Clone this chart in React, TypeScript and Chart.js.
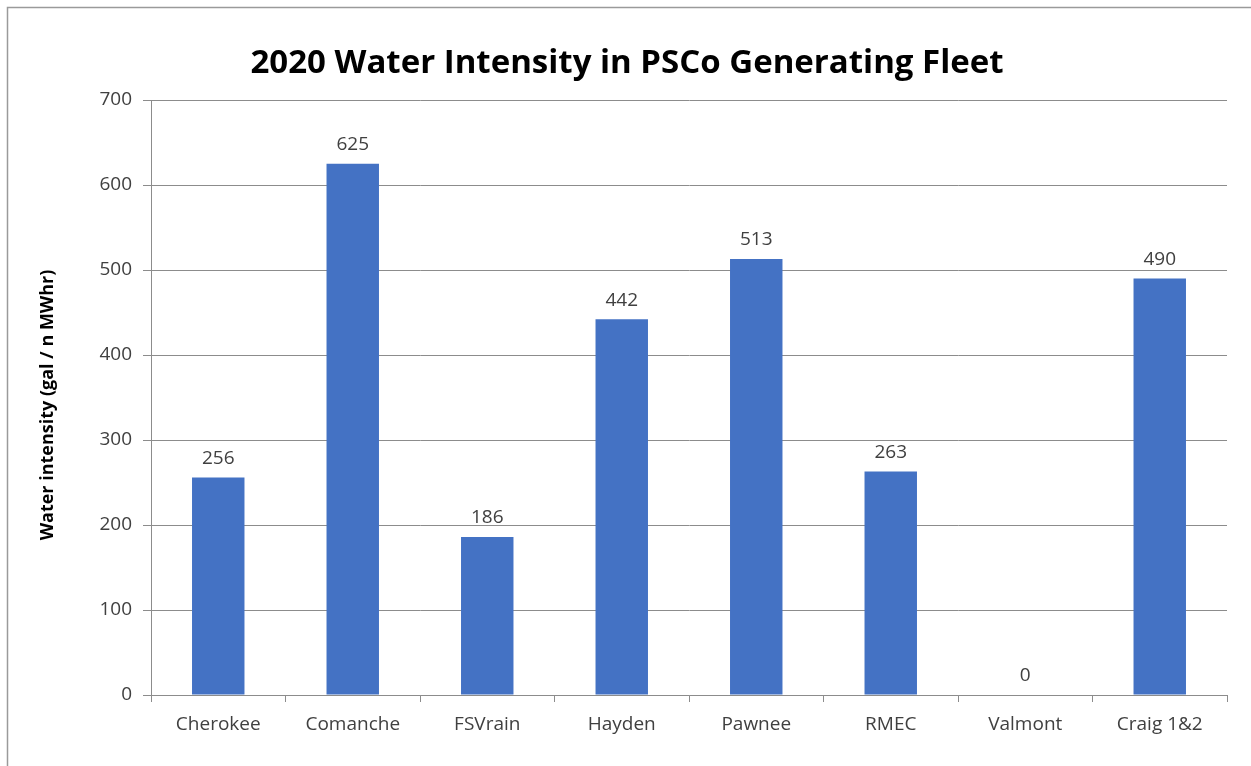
import React, { useEffect, useRef } from "react";
import { Chart, registerables } from "chart.js";

Chart.register(...registerables);

const titleText = "2020 Water Intensity in PSCo Generating Fleet";
const yAxisTitle = "Water intensity (gal / n MWhr)";
const categories = ["Cherokee", "Comanche", "FSVrain", "Hayden", "Pawnee", "RMEC", "Valmont", "Craig 1&2"];
const values = [256, 625, 186, 442, 513, 263, 0, 490];
const yMin = 0;
const yMax = 700;
const yStep = 100;

const FONT = "'Open Sans', 'Noto Sans', sans-serif";
const TEXT = "#404040";
const GRID = "#8c8c8c";
const BAR = "#4472C4";

export default function App() {
  const ref = useRef<HTMLCanvasElement | null>(null);
  useEffect(() => {
    if (!ref.current) return;
    const decor = {
      id: "decor",
      beforeDraw(chart: any) {
        const ctx = chart.ctx;
        ctx.save();
        ctx.fillStyle = "#ffffff";
        ctx.fillRect(0, 0, chart.width, chart.height);
        ctx.strokeStyle = "#9a9a9a";
        ctx.lineWidth = 1.5;
        ctx.strokeRect(7.5, 7.5, chart.width + 20, chart.height + 20);
        ctx.restore();
      },
      afterDraw(chart: any) {
        const ctx = chart.ctx;
        ctx.save();
        ctx.fillStyle = "#000000";
        ctx.font = `bold 33px ${FONT}`;
        ctx.textAlign = "center";
        ctx.textBaseline = "middle";
        ctx.fillText(titleText, 627, 64);
        ctx.translate(48, 405);
        ctx.rotate(-Math.PI / 2);
        ctx.font = `bold 18px ${FONT}`;
        ctx.fillText(yAxisTitle, 0, 0);
        ctx.restore();
      },
      afterDatasetsDraw(chart: any) {
        const ctx = chart.ctx;
        const meta = chart.getDatasetMeta(0);
        ctx.save();
        ctx.fillStyle = TEXT;
        ctx.font = `19px ${FONT}`;
        ctx.textAlign = "center";
        ctx.textBaseline = "middle";
        meta.data.forEach((el: any, i: number) => {
          ctx.fillText(String(values[i]), el.x, el.y - 19);
        });
        ctx.restore();
      },
    };
    const chart = new Chart(ref.current, {
      type: "bar",
      data: {
        labels: categories,
        datasets: [
          {
            data: values,
            backgroundColor: BAR,
            borderWidth: 0,
            barPercentage: 0.39,
            categoryPercentage: 1,
          },
        ],
      },
      options: {
        animation: false,
        responsive: false,
        maintainAspectRatio: false,
        layout: { padding: { left: 0, top: 100, right: 24, bottom: 0 } },
        plugins: { legend: { display: false }, title: { display: false }, tooltip: { enabled: false } },
        scales: {
          x: {
            type: "category",
            grid: { display: true, drawOnChartArea: false, drawTicks: true, tickLength: 7, color: GRID, offset: true },
            border: { color: GRID, width: 1 },
            ticks: { color: TEXT, font: { family: FONT, size: 19 }, padding: 11, maxRotation: 0, autoSkip: false },
            afterFit: (s: any) => {
              s.height = 71;
            },
          },
          y: {
            min: yMin,
            max: yMax,
            grid: { color: GRID, tickLength: 8, drawTicks: true },
            border: { color: GRID, width: 1 },
            ticks: { stepSize: yStep, color: TEXT, font: { family: FONT, size: 19 }, padding: 11 },
            afterFit: (s: any) => {
              s.width = 151;
            },
          },
        },
      },
      plugins: [decor],
    } as any);
    return () => chart.destroy();
  }, []);
  return (
    <div style={{ position: "absolute", left: 0, top: 0, width: 1251, height: 766 }}>
      <canvas ref={ref} width={1251} height={766} style={{ display: "block" }} />
    </div>
  );
}
